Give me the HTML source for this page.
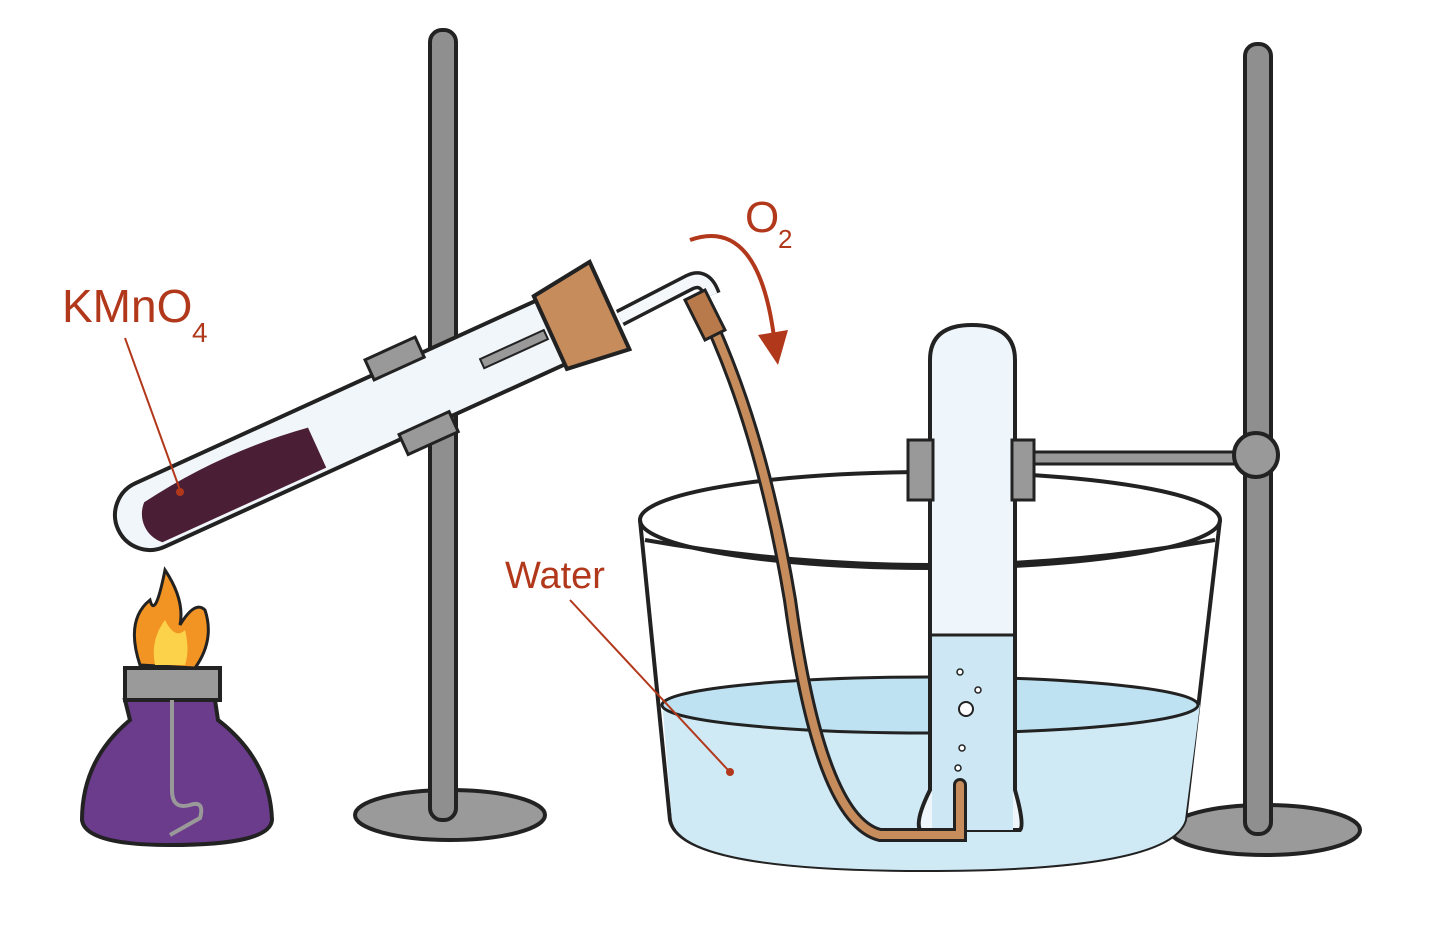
<!DOCTYPE html>
<html><head><meta charset="utf-8"><style>
html,body{margin:0;padding:0;background:#fff;width:1432px;height:926px;overflow:hidden}
svg{display:block}
text{font-family:"Liberation Sans",sans-serif;fill:#b2381b}
</style></head><body>
<svg width="1432" height="926" viewBox="0 0 1432 926" xmlns="http://www.w3.org/2000/svg">
<!-- left stand -->
<ellipse cx="450" cy="815" rx="95" ry="25" fill="#9a9a9a" stroke="#222" stroke-width="4"/>
<rect x="430" y="30" width="26" height="790" rx="12" fill="#8f8f8f" stroke="#222" stroke-width="4"/>
<!-- right stand -->
<ellipse cx="1265" cy="830" rx="95" ry="25" fill="#9a9a9a" stroke="#222" stroke-width="4"/>
<rect x="1245" y="44" width="26" height="790" rx="12" fill="#8f8f8f" stroke="#222" stroke-width="4"/>
<rect x="1020" y="452" width="230" height="12" fill="#999" stroke="#222" stroke-width="3"/>
<circle cx="1256" cy="455" r="22" fill="#999" stroke="#222" stroke-width="4"/>

<!-- trough -->
<path d="M640 520 L670 820 Q680 870 925 870 Q1170 870 1185 820 L1220 520" fill="#fff" stroke="#222" stroke-width="4"/>
<path d="M662 700 Q930 660 1200 705 L1185 820 Q1170 870 925 870 Q680 870 672 820 Z" fill="#cfe9f5" stroke="none"/>
<ellipse cx="930" cy="705" rx="268" ry="28" fill="#bfe2f2" stroke="#222" stroke-width="3"/>
<ellipse cx="930" cy="520" rx="290" ry="48" fill="none" stroke="#222" stroke-width="4"/>
<path d="M645 540 Q930 590 1215 540" fill="none" stroke="#222" stroke-width="4"/>

<!-- collection tube -->
<path d="M930 360 Q930 325 972 325 Q1015 325 1015 360 L1015 790 Q1025 825 1020 830 L920 830 Q915 820 930 790 Z" fill="#eef6fb" stroke="#222" stroke-width="4"/>
<rect x="932" y="635" width="81" height="195" fill="#cde8f4"/>
<line x1="932" y1="635" x2="1013" y2="635" stroke="#222" stroke-width="3"/>
<circle cx="966" cy="709" r="7" fill="#fff" stroke="#222" stroke-width="2"/>
<circle cx="960" cy="672" r="3" fill="#fff" stroke="#222" stroke-width="1.5"/>
<circle cx="978" cy="690" r="3" fill="#fff" stroke="#222" stroke-width="1.5"/>
<circle cx="962" cy="748" r="3" fill="#fff" stroke="#222" stroke-width="1.5"/>
<circle cx="958" cy="768" r="3" fill="#fff" stroke="#222" stroke-width="1.5"/>
<rect x="908" y="440" width="25" height="60" fill="#999" stroke="#222" stroke-width="3"/>
<rect x="1012" y="440" width="22" height="60" fill="#999" stroke="#222" stroke-width="3"/>

<!-- hose -->
<path d="M700 300 Q760 420 790 600 Q820 820 880 835 L960 835 L960 785" fill="none" stroke="#222" stroke-width="14" stroke-linecap="round"/>
<path d="M700 300 Q760 420 790 600 Q820 820 880 835 L960 835 L960 785" fill="none" stroke="#c68c5c" stroke-width="8" stroke-linecap="round"/>
<!-- glass bend tube -->
<path d="M620 318 L690 282 Q705 275 712 295" fill="none" stroke="#222" stroke-width="18"/>
<path d="M620 318 L690 282 Q705 275 712 295" fill="none" stroke="#f4f8fb" stroke-width="11"/>
<path d="M685 300 L705 290 L725 330 L705 340 Z" fill="#b97a4b" stroke="#222" stroke-width="3"/>

<!-- test tube -->
<g transform="translate(150,515) rotate(-24.5)">
<path d="M0 -35 L470 -35 L470 35 L0 35 A35 35 0 0 1 0 -35 Z" fill="#f1f6fa" stroke="#222" stroke-width="4"/>
<path d="M0 -14 Q90 -28 180 -14 L180 30 L0 30 A30 30 0 0 1 0 -14 Z" fill="#4a1f35"/>
<rect x="365" y="-5" width="70" height="10" fill="#999" stroke="#222" stroke-width="2"/>
<rect x="260" y="-52" width="55" height="22" fill="#999" stroke="#222" stroke-width="3"/>
<rect x="260" y="30" width="55" height="22" fill="#999" stroke="#222" stroke-width="3"/>
<path d="M440 -40 L505 -48 L505 48 L440 40 Z" fill="#c68c5c" stroke="#222" stroke-width="4"/>
</g>

<!-- burner -->
<path d="M125 700 L215 700 L218 720 Q270 760 272 820 Q270 845 170 845 Q85 845 82 820 Q82 760 130 720 Z" fill="#6b3b8c" stroke="#222" stroke-width="4"/>
<rect x="125" y="668" width="95" height="32" fill="#9a9a9a" stroke="#222" stroke-width="4"/>
<path d="M172 700 L172 790 Q172 810 190 805 Q205 800 200 818 L170 835" fill="none" stroke="#999" stroke-width="4"/>
<path d="M140 665 Q125 620 150 600 Q155 620 165 570 Q185 600 180 625 Q195 600 205 610 Q215 640 195 668 Z" fill="#f29423" stroke="#222" stroke-width="3"/>
<path d="M155 665 Q150 640 165 620 Q175 640 185 630 Q190 650 185 665 Z" fill="#fcd24a"/>

<!-- labels -->
<text x="62" y="322" font-size="46">KMnO</text>
<text x="192" y="342" font-size="28">4</text>
<line x1="125" y1="338" x2="180" y2="490" stroke="#b2381b" stroke-width="2"/>
<circle cx="180" cy="492" r="4" fill="#b2381b"/>
<text x="505" y="588" font-size="38">Water</text>
<line x1="570" y1="600" x2="728" y2="770" stroke="#b2381b" stroke-width="2"/>
<circle cx="730" cy="772" r="4" fill="#b2381b"/>
<text x="745" y="232" font-size="44">O</text>
<text x="778" y="248" font-size="26">2</text>
<path d="M690 240 Q760 215 775 345" fill="none" stroke="#b2381b" stroke-width="4"/>
<path d="M758 335 L778 365 L788 330 Z" fill="#b2381b"/>
</svg>
</body></html>
